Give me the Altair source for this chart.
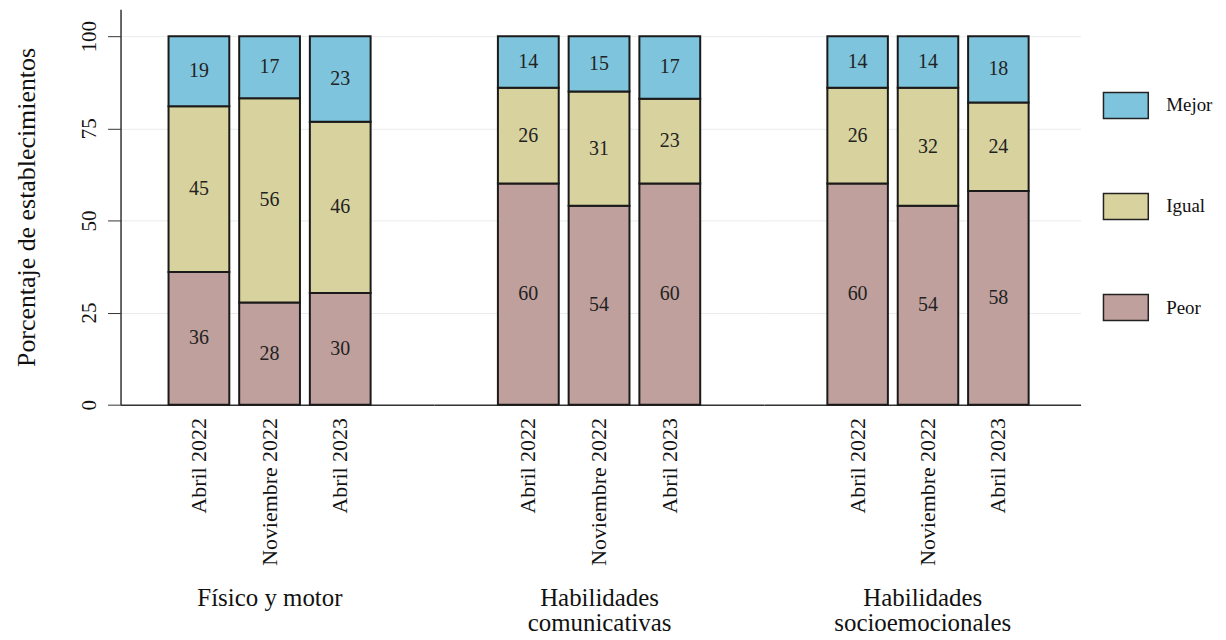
import altair as alt
import pandas as pd

grupos = ["Físico y motor", "Habilidades comunicativas", "Habilidades socioemocionales"]
titulos = [["Físico y motor"], ["Habilidades", "comunicativas"], ["Habilidades", "socioemocionales"]]
periodos = ["Abril 2022", "Noviembre 2022", "Abril 2023"]
categorias = ["Peor", "Igual", "Mejor"]

peor = [36, 28, 30, 60, 54, 60, 60, 54, 58]
igual = [45, 56, 46, 26, 31, 23, 26, 32, 24]
mejor = [19, 17, 23, 14, 15, 17, 14, 14, 18]

colores = ["#bfa09c", "#d8d39e", "#7ec4dc"]

rows = []
i = 0
for g in grupos:
    for p in periodos:
        for k, (cat, serie) in enumerate(zip(categorias, [peor, igual, mejor])):
            rows.append({"grupo": g, "periodo": p, "categoria": cat, "orden": k, "valor": serie[i]})
        i += 1
df = pd.DataFrame(rows)

FONT = "Liberation Serif"
widths = [315, 331, 318]
pad_outer = [0.79, 0.90, 0.82]
aligns = [0.43, 0.5, 0.55]
H = 397

panels = []
for j, g in enumerate(grupos):
    base = alt.Chart(df[df.grupo == g]).transform_stack(
        stack="valor", groupby=["periodo"], sort=[alt.SortField("orden", order="ascending")],
        as_=["y0", "y1"], offset="normalize"
    ).transform_calculate(mid="(datum.y0 + datum.y1) / 2")

    xenc = alt.X("periodo:N", sort=periodos,
                 scale=alt.Scale(paddingInner=0.14, paddingOuter=pad_outer[j], align=aligns[j]),
                 axis=alt.Axis(title=titulos[j], labelAngle=-90, labelAlign="right", labelBaseline="middle",
                               ticks=False, labelPadding=13, labelFontSize=22, labelFont=FONT,
                               titleFont=FONT, titleFontSize=25, titleFontWeight="normal",
                               titlePadding=20, domainColor="#333333", domainWidth=1.5,
                               labelColor="#111111", titleColor="#111111",
                               titleX=(widths[j] / 2 - 8) if j == 0 else widths[j] / 2,
                               titleLineHeight=25))
    if j == 0:
        yaxis = alt.Axis(title="Porcentaje de establecimientos", values=[0, 0.25, 0.5, 0.75, 1.0],
                         labelExpr="format(datum.value*100, 'd')", labelAngle=-90, labelAlign="center",
                         labelBaseline="bottom", labelPadding=8, labelFontSize=21, labelFont=FONT,
                         tickSize=13, tickColor="#333333", domainColor="#333333", domainWidth=1.5,
                         titleFont=FONT, titleFontSize=26, titleFontWeight="normal", titlePadding=39,
                         gridColor="#e8ecea", labelColor="#111111", titleColor="#111111")
    else:
        yaxis = alt.Axis(title=None, values=[0, 0.25, 0.5, 0.75, 1.0], labels=False, ticks=False,
                         domain=False, gridColor="#e8ecea")
    yenc = alt.Y("y0:Q", scale=alt.Scale(domain=[0, 1.073], nice=False), axis=yaxis)

    bars = base.mark_bar(stroke="#1a1a1a", strokeWidth=2).encode(
        x=xenc, y=yenc, y2="y1:Q",
        color=alt.Color("categoria:N", scale=alt.Scale(domain=["Mejor", "Igual", "Peor"],
                                                        range=[colores[2], colores[1], colores[0]]),
                        legend=alt.Legend(title=None, orient="none", legendX=986, legendY=73,
                                          labelFont=FONT, labelFontSize=19,
                                          symbolType="M-1,-0.58H1V0.58H-1Z", symbolSize=2025,
                                          symbolStrokeColor="#222222", symbolStrokeWidth=1.5,
                                          rowPadding=61.5, labelOffset=17, padding=0,
                                          labelColor="#111111"))
    )
    text = base.mark_text(font=FONT, fontSize=20, color="#222222").encode(
        x=alt.X("periodo:N", sort=periodos), y=alt.Y("mid:Q"), text="valor:Q"
    )
    panels.append(alt.layer(bars, text).properties(width=widths[j], height=H))

chart = alt.hconcat(*panels, spacing=0).properties(
    padding={"left": 5, "top": 0, "right": 5, "bottom": 2}
).configure(
    background="white", font=FONT
).configure_view(stroke=None).configure_concat(spacing=0)

chart.save("out.html", embed_options={"renderer": "svg", "actions": False})
